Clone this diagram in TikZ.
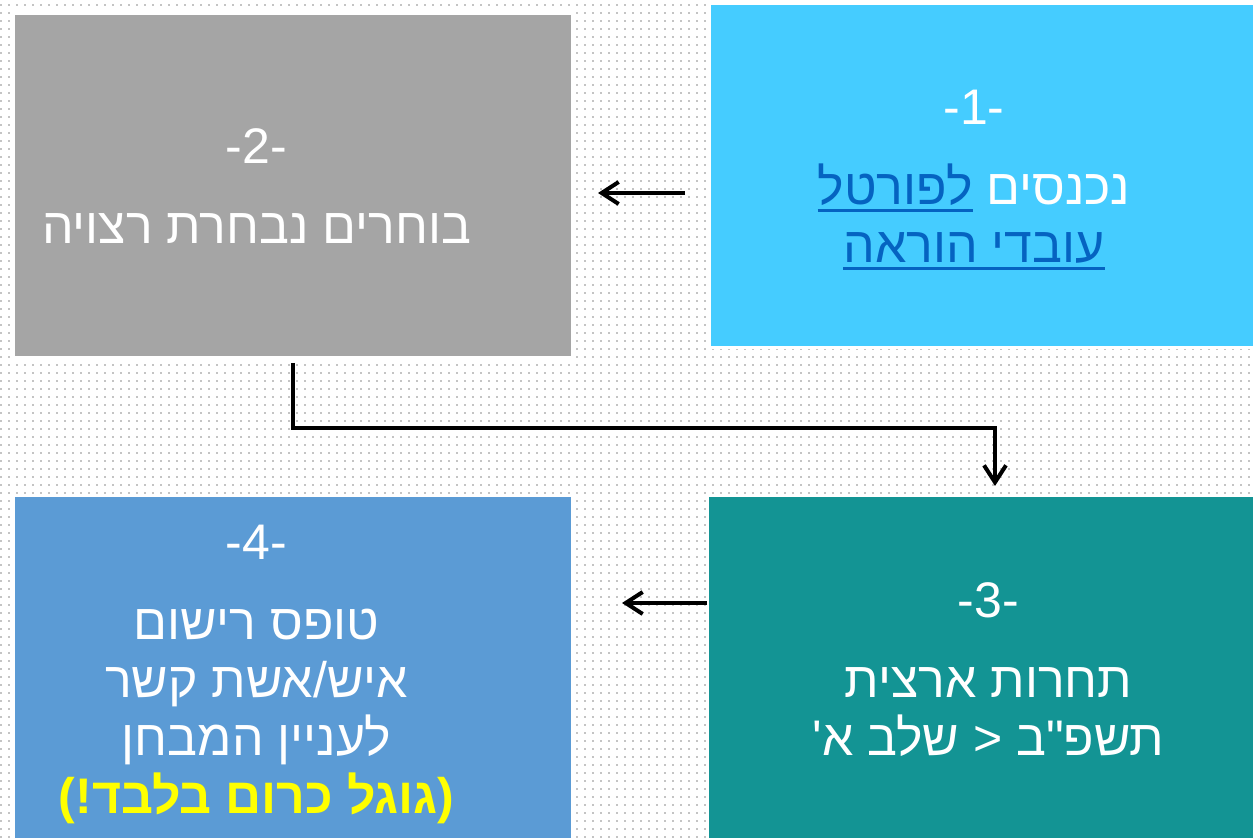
\documentclass[tikz,border=0pt]{standalone}
\usepackage{fontspec}
\usepackage{xcolor}
\usetikzlibrary{positioning,arrows.meta,patterns}
\newfontfamily\hebfont[Script=Hebrew]{Liberation Sans}
\TeXXeTstate=1
\definecolor{portalblue}{HTML}{45CCFF}
\definecolor{choosegray}{HTML}{A5A5A5}
\definecolor{contestteal}{HTML}{139494}
\definecolor{formblue}{HTML}{5B9BD5}
\definecolor{linkblue}{HTML}{0563C1}
\definecolor{notice}{HTML}{FFFF00}
\definecolor{dotgray}{HTML}{C4C4C4}
\pgfdeclarepatternformonly{bgdots}{\pgfqpoint{-0.5pt}{-0.5pt}}{\pgfqpoint{1.7pt}{1.7pt}}{\pgfqpoint{4pt}{4pt}}{\pgfpathrectangle{\pgfqpoint{0pt}{0pt}}{\pgfqpoint{1.2pt}{1.2pt}}\pgfusepath{fill}}
\newcommand{\heb}[1]{\beginR #1\endR}
\newcommand{\portallink}[1]{\hbox{\setbox0=\hbox{\beginR #1\endR}\textcolor{linkblue}{\rlap{\rule[-3.5pt]{\wd0}{1.1pt}}\box0}}}
\newcommand{\boxtext}[3]{\begin{tabular}{@{\hspace{#1}}c@{\hspace{#2}}}\noalign{\vskip 6pt}#3\end{tabular}}

\begin{document}
\begin{tikzpicture}[x=0.5pt, y=-0.5pt, box/.style={draw=white, line width=1.5pt, rectangle, align=center, text=white, inner sep=0pt, outer sep=0pt, font=\hebfont\fontsize{25}{29}\selectfont}, arrow/.style={draw, -{Straight Barb[length=8.5pt, width=11pt]}, line width=2pt}]
    % background
    \useasboundingbox (0,0) rectangle (1253,838);
    \fill[white] (0,0) rectangle (1253,838);
    \fill[pattern=bgdots, pattern color=dotgray] (0,0) rectangle (1253,838);

    % nodes
    \node[box, fill=portalblue, minimum width=274.5pt, minimum height=172pt] (portal) at (983.5,176) {\boxtext{0pt}{9.5pt}{-1-\\[11pt]\portallink{לפורטל} נכנסים\\\portallink{עובדי הוראה}}};
    \node[box, fill=choosegray, minimum width=279.5pt, minimum height=172pt] (choose) at (292.5,186) {\boxtext{0pt}{36pt}{-2-\\[11pt]\heb{בוחרים נבחרת רצויה}}};
    \node[box, fill=contestteal, minimum width=275.5pt, minimum height=173pt] (contest) at (982.5,669) {\boxtext{6pt}{0pt}{-3-\\[11pt]\heb{תחרות ארצית}\\\heb{תשפ"ב < שלב א'}}};
    \node[box, fill=formblue, minimum width=279.5pt, minimum height=173pt] (form) at (292.5,669) {\boxtext{0pt}{36pt}{-4-\\[11pt]\heb{טופס רישום}\\\heb{איש/אשת קשר}\\\heb{לעניין המבחן}\\\textcolor{notice}{\bfseries\heb{(גוגל כרום בלבד!)}}}};

    % arrows
    \draw[arrow, shorten <=12pt, shorten >=13pt] ([yshift=-8.5pt]portal.west) -- ([yshift=-3.5pt]choose.east);
    \draw[arrow, shorten <=2.5pt, shorten >=5pt] (choose.south) -- ++(0,70) -| ([xshift=6.25pt]contest.north);
    \draw[arrow, shorten >=25pt] ([yshift=33pt]contest.west) -- ([yshift=33pt]form.east);
\end{tikzpicture}
\end{document}
